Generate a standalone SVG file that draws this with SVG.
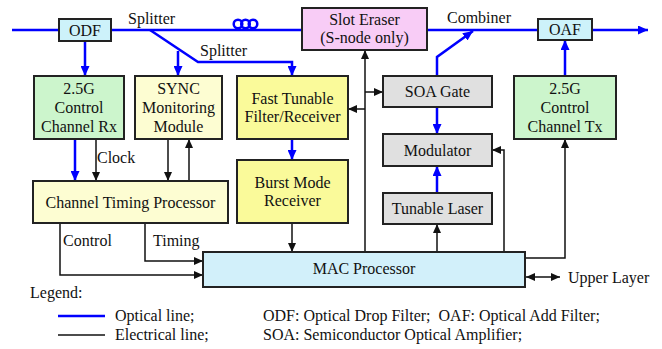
<svg xmlns="http://www.w3.org/2000/svg" width="662" height="349" viewBox="0 0 662 349" font-family="'Liberation Serif', 'DejaVu Serif', serif" font-size="16">
<style>
text{font-family:'Liberation Serif','DejaVu Serif',serif;font-size:16px;fill:#111}
.c{text-anchor:middle}
.box{stroke:#222;stroke-width:2}
.opt{fill:none;stroke:#0000ff;stroke-width:2.5}
.ele{fill:none;stroke:#111;stroke-width:1.5}
.cyan{fill:#cdf2fa}.pink{fill:#f8ccf6}.green{fill:#ccf5cc}.lyel{fill:#fdfdd2}.yel{fill:#fafa9a}.gray{fill:#e0e0e0}.mac{fill:#d2f0fa}
</style>
<defs>
<marker id="ab" markerUnits="userSpaceOnUse" markerWidth="10" markerHeight="9" refX="10" refY="4.5" orient="auto-start-reverse"><path d="M0,0 L10,4.5 L0,9 z" fill="#0000ff"/></marker>
<marker id="ak" markerUnits="userSpaceOnUse" markerWidth="9" markerHeight="8" refX="9" refY="4" orient="auto-start-reverse"><path d="M0,0 L9,4 L0,8 z" fill="#111"/></marker>
</defs>
<g id="connectors">
<path class="opt" d="M12,30 L59,30"/>
<path class="opt" d="M111,30 L302,30"/>
<path class="opt" d="M427,30 L538,30"/>
<path class="opt" d="M592,30 L648,30" marker-end="url(#ab)"/>
<g id="coil" class="opt"><circle cx="238" cy="24" r="4.3"/><circle cx="245.5" cy="24" r="4.3"/><circle cx="253" cy="24" r="4.3"/></g>
<path class="opt" d="M150,30 L198,62 L292,62 L292,76" marker-end="url(#ab)"/>
<path class="opt" d="M178,51 L178,76" marker-end="url(#ab)"/>
<path class="opt" d="M85,41 L85,76" marker-end="url(#ab)"/>
<path class="opt" d="M75,139 L75,181" marker-end="url(#ab)"/>
<path class="opt" d="M292,139 L292,160" marker-end="url(#ab)"/>
<path class="opt" d="M437,76 L437,57 L473,31" marker-end="url(#ab)"/>
<path class="opt" d="M437,107 L437,134" marker-end="url(#ab)"/>
<path class="opt" d="M437,193 L437,166" marker-end="url(#ab)"/>
<path class="opt" d="M565,76 L565,40" marker-end="url(#ab)"/>
<path class="ele" d="M96,139 L96,181" marker-end="url(#ak)"/>
<path class="ele" d="M168,139 L168,181" marker-end="url(#ak)"/>
<path class="ele" d="M189,181 L189,139" marker-end="url(#ak)"/>
<path class="ele" d="M60,223 L60,275 L203,275" marker-end="url(#ak)"/>
<path class="ele" d="M145,223 L145,261 L203,261" marker-end="url(#ak)"/>
<path class="ele" d="M292,223 L292,252" marker-end="url(#ak)"/>
<path class="ele" d="M365,252 L365,50" marker-end="url(#ak)"/>
<path class="ele" d="M365,92 L383,92" marker-end="url(#ak)"/>
<path class="ele" d="M365,109 L348,109" marker-end="url(#ak)"/>
<path class="ele" d="M437,252 L437,224" marker-end="url(#ak)"/>
<path class="ele" d="M504,252 L504,150 L492,150" marker-end="url(#ak)"/>
<path class="ele" d="M525,258 L565,258 L565,139" marker-end="url(#ak)"/>
<path class="ele" d="M526,277 L560,277" marker-start="url(#ak)" marker-end="url(#ak)"/>
</g>
<g id="labels">
<text x="128" y="24">Splitter</text>
<text x="200" y="56">Splitter</text>
<text x="447" y="23">Combiner</text>
<text x="97" y="163">Clock</text>
<text x="63" y="246">Control</text>
<text x="153" y="246">Timing</text>
<text x="568" y="283">Upper Layer</text>
</g>
<g id="odf"><rect class="box cyan" x="59" y="19" width="52" height="22"/><text class="c" x="85" y="36">ODF</text></g>
<g id="slot-eraser"><rect class="box pink" x="302" y="8" width="125" height="42"/><text class="c" x="364.5" y="25">Slot Eraser</text><text class="c" x="364.5" y="43">(S-node only)</text></g>
<g id="oaf"><rect class="box cyan" x="538" y="19" width="54" height="21"/><text class="c" x="565" y="35">OAF</text></g>
<g id="control-rx"><rect class="box green" x="34" y="76" width="90" height="63"/><text class="c" x="79" y="94">2.5G</text><text class="c" x="79" y="113">Control</text><text class="c" x="79" y="132">Channel Rx</text></g>
<g id="sync"><rect class="box lyel" x="135" y="76" width="87" height="63"/><text class="c" x="178.5" y="94">SYNC</text><text class="c" x="178.5" y="113">Monitoring</text><text class="c" x="178.5" y="132">Module</text></g>
<g id="fast-tunable"><rect class="box yel" x="237" y="76" width="111" height="63"/><text class="c" x="292.5" y="104">Fast Tunable</text><text class="c" x="292.5" y="122">Filter/Receiver</text></g>
<g id="soa-gate"><rect class="box gray" x="383" y="76" width="109" height="31"/><text class="c" x="437.5" y="97">SOA Gate</text></g>
<g id="control-tx"><rect class="box green" x="514" y="76" width="102" height="63"/><text class="c" x="565" y="94">2.5G</text><text class="c" x="565" y="113">Control</text><text class="c" x="565" y="132">Channel Tx</text></g>
<g id="modulator"><rect class="box gray" x="383" y="134" width="109" height="32"/><text class="c" x="437.5" y="156">Modulator</text></g>
<g id="ctp"><rect class="box lyel" x="33" y="181" width="195" height="42"/><text class="c" x="130.5" y="208">Channel Timing Processor</text></g>
<g id="burst"><rect class="box yel" x="237" y="160" width="111" height="63"/><text class="c" x="292.5" y="188">Burst Mode</text><text class="c" x="292.5" y="206">Receiver</text></g>
<g id="tunable-laser"><rect class="box gray" x="383" y="193" width="109" height="31"/><text class="c" x="437.5" y="214">Tunable Laser</text></g>
<g id="mac"><rect class="box mac" x="203" y="252" width="322" height="35"/><text class="c" x="364" y="274">MAC Processor</text></g>
<g id="legend">
<text x="30" y="298">Legend:</text>
<line x1="58" y1="316" x2="105" y2="316" stroke="#0000ff" stroke-width="2.5"/>
<line x1="58" y1="335" x2="105" y2="335" stroke="#111" stroke-width="1.5"/>
<text x="115" y="321">Optical line;</text>
<text x="115" y="340">Electrical line;</text>
<text x="263" y="321" xml:space="preserve">ODF: Optical Drop Filter;  OAF: Optical Add Filter;</text>
<text x="263" y="340">SOA: Semiconductor Optical Amplifier;</text>
</g>
</svg>
